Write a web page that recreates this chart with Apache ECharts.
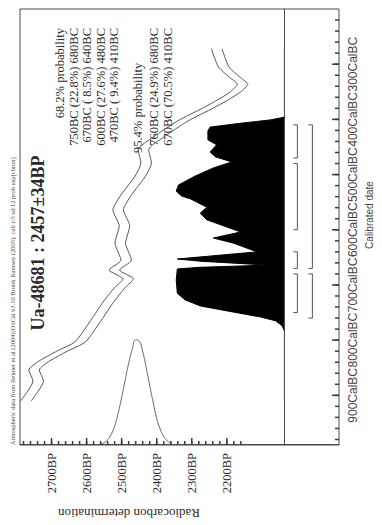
<!DOCTYPE html>
<html>
<head>
<meta charset="utf-8">
<script src="https://cdn.jsdelivr.net/npm/echarts@6/dist/echarts.min.js"></script>
<style>
  html, body { margin: 0; padding: 0; background: #fff; overflow: hidden; width: 382px; height: 525px; }
  /* OxCal-style landscape plot, turned a quarter turn counter-clockwise on the page */
  #plot { position: absolute; left: 0; top: 0; width: 525px; height: 382px;
          transform-origin: 0 0; transform: translate(0, 525px) rotate(-90deg); }
</style>
</head>
<body>
<div id="plot"></div>
<script>
// ---- Calibration curve (IntCal04 band, ±1σ), years as negative = BC ----
const calYear  = [-910, -874, -854, -838, -820, -803, -764, -731, -704, -689, -673, -655, -624, -593, -564, -537, -503, -479, -455, -432, -403, -379, -365, -350, -336, -325, -305, -272];
const calUpper = [2788, 2753, 2765, 2736, 2685, 2633, 2588, 2553, 2519, 2496, 2536, 2502, 2519, 2507, 2525, 2502, 2462, 2445, 2453, 2410, 2341, 2267, 2227, 2190, 2170, 2190, 2224, 2244];
const calLower = [2758, 2723, 2735, 2706, 2655, 2603, 2558, 2523, 2489, 2466, 2506, 2472, 2489, 2477, 2495, 2472, 2432, 2415, 2423, 2380, 2311, 2237, 2197, 2160, 2140, 2160, 2194, 2214];
const calRange = [-910, -272];

// ---- Measured radiocarbon date Ua-48681 (relative density) ----
const measuredBP      = [2570, 2560, 2550, 2540, 2530, 2520, 2510, 2500, 2490, 2480, 2470, 2460, 2450, 2440, 2430, 2420, 2410, 2400, 2390, 2380, 2370, 2360, 2350];
const measuredDensity = [0.00, 0.01, 0.02, 0.05, 0.10, 0.18, 0.30, 0.45, 0.61, 0.77, 0.90, 0.99, 0.98, 0.88, 0.73, 0.56, 0.40, 0.25, 0.15, 0.08, 0.04, 0.015, 0.00];

// ---- Calibrated probability distribution (relative) ----
const distYear = [-783, -774, -765, -758, -749, -738, -727, -715, -691, -671, -668, -664, -657, -653, -640, -624, -615, -604, -582, -570, -559, -544, -539, -530, -519, -503, -488, -477, -468, -459, -446, -437, -421, -414, -407, -401, -396];
const distProb = [0, 0.02, 0.08, 0.22, 0.47, 0.77, 0.91, 0.98, 0.99, 0.98, 0.77, 0.15, 0.77, 0.98, 0.25, 0.47, 0.65, 0.40, 0.71, 0.77, 0.71, 0.86, 0.94, 0.99, 0.97, 0.82, 0.65, 0.48, 0.63, 0.68, 0.62, 0.70, 0.70, 0.68, 0.40, 0.13, 0];

// ---- Highest-probability ranges ----
const range68 = [[-750, -680], [-670, -640], [-600, -480], [-470, -410]];
const range95 = [[-760, -680], [-670, -410]];

// ---- Axis extents and ticks ----
const yearMin = -990, yearMax = -200;
const bpMin = 1880, bpMax = 2790;
const yearMinorTicks = [];
for (let y = -980; y <= -220; y += 20) yearMinorTicks.push(y);
const yearMajorTicks = [-900, -800, -700, -600, -500, -400, -300];
const bpMinorTicks = [];
for (let b = 2160; b <= 2780; b += 20) bpMinorTicks.push(b);
const bpMajorTicks = [2200, 2300, 2400, 2500, 2600, 2700];

// ---- Texts ----
const titleText = 'Ua-48681 : 2457\u00B134BP';
const sourceText = 'Atmospheric data from Reimer et al (2004);OxCal v3.10 Bronk Ramsey (2005); cub r:5 sd:12 prob usp[chron]';
const rangeLines = [
  '68.2% probability',
  '750BC (22.8%) 680BC',
  '670BC ( 8.5%) 640BC',
  '600BC (27.6%) 480BC',
  '470BC ( 9.4%) 410BC',
  '95.4% probability',
  '760BC (24.9%) 680BC',
  '670BC (70.5%) 410BC'
];
const xAxisName = 'Calibrated date';
const yAxisName = 'Radiocarbon determination';

const SERIF = '"Liberation Serif", "Times New Roman", serif';
const SANS = '"Liberation Sans", Arial, sans-serif';
const FRAME = '#4a4a4a';
const TICK = '#3a3a3a';
const INK = '#2a2a2a';

const chart = echarts.init(document.getElementById('plot'), null, { renderer: 'svg', width: 525, height: 382 });

const pair = (xs, ys) => xs.map((x, i) => [x, ys[i]]);

// text block rows (distance from the top of the plot) and anchoring
const lineRows = [60, 73.5, 87, 100.5, 114, 138, 154, 168];
const lineAnchor = [
  { x: 497, align: 'right' }, { x: 497, align: 'right' }, { x: 497, align: 'right' },
  { x: 497, align: 'right' }, { x: 497, align: 'right' }, { x: 372, align: 'left' },
  { x: 497, align: 'right' }, { x: 497, align: 'right' }
];

const graphics = [
  { type: 'text', x: 80, y: 12, style: { text: sourceText, fill: '#444', font: '6.5px ' + SERIF, align: 'left', verticalAlign: 'middle' } },
  { type: 'text', x: 282, y: 37.5, style: { text: titleText, fill: INK, font: 'bold 18px ' + SERIF, align: 'center', verticalAlign: 'middle' } },
  { type: 'text', x: 310, y: 369, style: { text: xAxisName, fill: '#444', font: '10px ' + SANS, align: 'center', verticalAlign: 'middle' } },
  { type: 'text', x: 12, y: 129, rotation: Math.PI / 2, style: { text: yAxisName, fill: INK, font: '13px ' + SERIF, align: 'center', verticalAlign: 'middle' } }
].concat(rangeLines.map((t, i) => ({
  type: 'text', x: lineAnchor[i].x, y: lineRows[i],
  style: { text: t, fill: INK, font: '12.5px ' + SERIF, align: lineAnchor[i].align, verticalAlign: 'middle' }
})));

const bracketData = range68.map(r => [r[0], r[1], 13]).concat(range95.map(r => [r[0], r[1], 28]));

// inward tick marks, drawn as one custom series: [year, bp, direction, length]
// direction 0 = tick on the date axis (pointing up), 1 = tick on the radiocarbon axis (pointing right)
const tickData = []
  .concat(yearMinorTicks.map(v => [v, bpMin, 0, 4]))
  .concat(yearMajorTicks.map(v => [v, bpMin, 0, 7]))
  .concat(bpMinorTicks.map(v => [yearMin, v, 1, 4]))
  .concat(bpMajorTicks.map(v => [yearMin, v, 1, 7]));

chart.setOption({
  animation: false,
  backgroundColor: '#fff',
  grid: { left: 80, right: 9, top: 20, bottom: 43, show: true, borderColor: FRAME, borderWidth: 1 },
  xAxis: [
    { type: 'value', min: yearMin, max: yearMax, position: 'bottom',
      axisLine: { show: true, lineStyle: { color: FRAME } },
      axisTick: { show: false },
      axisLabel: { customValues: yearMajorTicks, formatter: v => (-v) + 'CalBC', margin: 8,
                   fontFamily: SANS, fontSize: 12, color: '#444' },
      splitLine: { show: false } },
    { type: 'value', min: 0, max: 4.11, show: false }
  ],
  yAxis: [
    { type: 'value', min: bpMin, max: bpMax, position: 'left',
      axisLine: { show: true, lineStyle: { color: FRAME } },
      axisTick: { show: false },
      axisLabel: { customValues: bpMajorTicks, formatter: v => v + 'BP', margin: 8,
                   fontFamily: SERIF, fontSize: 12.5, color: INK },
      splitLine: { show: false } },
    { type: 'value', min: -0.5, max: 2.42, show: false }
  ],
  graphic: graphics,
  series: [
    { name: 'curve-upper', type: 'line', xAxisIndex: 0, yAxisIndex: 0, data: pair(calYear, calUpper),
      showSymbol: false, smooth: 0.2, lineStyle: { color: '#555', width: 1 } },
    { name: 'curve-lower', type: 'line', xAxisIndex: 0, yAxisIndex: 0, data: pair(calYear, calLower),
      showSymbol: false, smooth: 0.2, lineStyle: { color: '#555', width: 1 } },
    { name: 'measured', type: 'line', xAxisIndex: 1, yAxisIndex: 0, data: pair(measuredDensity, measuredBP),
      showSymbol: false, smooth: true, lineStyle: { color: '#666', width: 1 } },
    { name: 'baseline', type: 'line', xAxisIndex: 0, yAxisIndex: 1, data: [[calRange[0], 0], [calRange[1], 0]],
      showSymbol: false, lineStyle: { color: '#555', width: 1 } },
    { name: 'calibrated', type: 'line', xAxisIndex: 0, yAxisIndex: 1, data: pair(distYear, distProb),
      showSymbol: false, lineStyle: { color: '#000', width: 1 }, areaStyle: { color: '#000', opacity: 1 } },
    { name: 'ranges', type: 'custom', xAxisIndex: 0, yAxisIndex: 1, data: bracketData,
      renderItem: (params, api) => {
        const a = api.coord([api.value(0), 0]);
        const b = api.coord([api.value(1), 0]);
        const y = a[1] + api.value(2);
        return { type: 'polyline',
          shape: { points: [[a[0], y - 4], [a[0], y], [b[0], y], [b[0], y - 4]] },
          style: { stroke: '#555', lineWidth: 1, fill: 'none' } };
      } },
    { name: 'axis-ticks', type: 'custom', xAxisIndex: 0, yAxisIndex: 0, z: 10, data: tickData,
      renderItem: (params, api) => {
        const p = api.coord([api.value(0), api.value(1)]);
        const len = api.value(3);
        const end = api.value(2) === 0 ? [p[0], p[1] - len] : [p[0] + len, p[1]];
        return { type: 'polyline', shape: { points: [[p[0], p[1]], end] },
                 style: { stroke: TICK, lineWidth: 1.5, fill: 'none' } };
      } }
  ]
});
</script>
</body>
</html>
